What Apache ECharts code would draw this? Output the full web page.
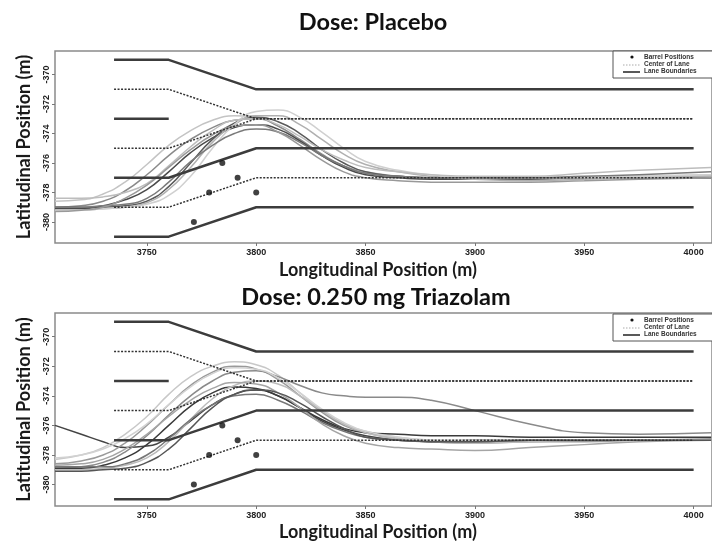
<!DOCTYPE html>
<html><head><meta charset="utf-8">
<script src="https://cdn.jsdelivr.net/npm/echarts@6/dist/echarts.min.js"></script>
<style>html,body{margin:0;padding:0;background:#fff}#c{width:712px;height:542px}</style>
</head><body><div id="c"></div>
<script>
// ---------- data ----------
const panelTitles = ['Dose: Placebo', 'Dose: 0.250 mg Triazolam'];
const xTicks = [3750, 3800, 3850, 3900, 3950, 4000];
const yTicks = [-380, -378, -376, -374, -372, -370];

// lane geometry (x positions and lateral positions)
const laneX = [3735, 3760, 3800, 4000];
const boundaryTop = [-369, -369, -371, -371];
const boundaryMid = [-377, -377, -375, -375];
const boundaryBot = [-381, -381, -379, -379];
const boundaryShortX = [3735, 3760];
const boundaryShort = [-373, -373];
const centerTop = [-371, -371, -373, -373];
const centerMid = [-375, -375, -373, -373];
const centerBot = [-379, -379, -377, -377];

// barrel positions
const barrelX = [3771.5, 3778.5, 3784.5, 3791.5, 3800];
const barrelY = [-380, -378, -376, -377, -378];

// trajectory sample positions
const trajX = [3708, 3720, 3730, 3740, 3750, 3760, 3770, 3780, 3790, 3800, 3810, 3820, 3830, 3840, 3850, 3865, 3880, 3900, 3925, 3950, 3975, 4008];

// Placebo trajectories
const P1 = [-378.6,-378.5,-378.1,-377.3,-376.1,-374.8,-373.8,-373.1,-372.8,-372.9,-373.5,-374.5,-375.5,-376.2,-376.6,-376.9,-377.0,-377.0,-377.1,-377.0,-376.9,-376.8];
const P2 = [-379.0,-378.9,-378.6,-377.9,-376.8,-375.5,-374.4,-373.6,-373.1,-373.0,-373.5,-374.4,-375.4,-376.2,-376.7,-376.9,-377.0,-377.0,-377.0,-377.0,-377.0,-376.9];
const P3 = [-379.1,-379.1,-378.9,-378.5,-377.8,-376.6,-375.3,-374.3,-373.6,-373.4,-373.7,-374.5,-375.5,-376.3,-376.8,-377.0,-377.1,-377.1,-377.0,-377.0,-377.0,-377.0];
const P4 = [-379.0,-379.0,-379.0,-378.9,-378.6,-377.6,-376.0,-374.4,-373.3,-372.9,-373.2,-374.0,-375.1,-376.0,-376.6,-376.9,-377.0,-377.1,-377.1,-377.0,-377.0,-377.0];
const P5 = [-379.2,-379.2,-379.1,-379.0,-378.7,-377.8,-376.3,-374.6,-373.4,-372.8,-372.8,-373.4,-374.4,-375.4,-376.1,-376.6,-376.9,-377.1,-377.2,-377.1,-377.0,-376.9];
const P6 = [-379.2,-379.2,-379.1,-379.0,-378.8,-378.2,-376.9,-375.0,-373.4,-372.5,-372.4,-372.9,-373.9,-375.0,-375.9,-376.5,-376.8,-377.0,-377.0,-377.0,-376.9,-376.8];
const P7 = [-379.0,-379.0,-378.9,-378.8,-378.4,-377.3,-375.9,-374.8,-374.0,-373.7,-373.9,-374.6,-375.5,-376.2,-376.7,-376.9,-377.0,-377.0,-377.0,-376.9,-376.8,-376.6];
const P8 = [-378.4,-378.4,-378.3,-378.0,-377.4,-376.2,-374.9,-373.8,-373.1,-373.0,-373.4,-374.2,-375.1,-375.8,-376.3,-376.6,-376.8,-376.9,-376.9,-376.7,-376.5,-376.3];
const P9 = [-379.3,-379.2,-379.0,-378.4,-377.5,-376.3,-375.1,-374.1,-373.5,-373.4,-373.9,-374.8,-375.8,-376.6,-377.0,-377.2,-377.3,-377.3,-377.3,-377.2,-377.1,-377.0];

// Triazolam trajectories
const T1 = [-376.0,-376.6,-377.1,-377.5,-377.4,-376.8,-375.7,-374.6,-373.9,-373.6,-374.0,-374.8,-375.7,-376.3,-376.7,-377.0,-377.1,-377.0,-377.0,-377.0,-377.0,-377.0];
const T2 = [-378.3,-378.0,-377.5,-376.6,-375.4,-373.9,-372.7,-372.0,-371.7,-371.9,-372.6,-373.8,-375.0,-375.9,-376.4,-376.8,-377.0,-377.1,-377.1,-377.0,-377.0,-377.0];
const T3 = [-378.6,-378.4,-378.0,-377.2,-376.0,-374.6,-373.3,-372.4,-372.0,-372.2,-372.9,-374.0,-375.1,-376.0,-376.5,-376.9,-377.1,-377.2,-377.1,-377.1,-377.0,-376.9];
const T4 = [-378.9,-378.8,-378.5,-377.8,-376.7,-375.3,-374.0,-373.0,-372.4,-372.3,-372.7,-373.3,-373.8,-374.0,-374.1,-374.1,-374.3,-375.0,-375.9,-376.5,-376.6,-376.5];
const T5 = [-378.9,-378.9,-378.7,-378.2,-377.3,-376.0,-374.7,-373.8,-373.4,-373.5,-374.0,-374.8,-375.6,-376.2,-376.5,-376.6,-376.7,-376.7,-376.8,-376.8,-376.8,-376.8];
const T6 = [-379.0,-379.0,-378.9,-378.7,-378.2,-377.1,-375.6,-374.2,-373.3,-373.0,-373.2,-374.0,-375.0,-375.9,-376.5,-376.9,-377.1,-377.2,-377.1,-377.0,-377.0,-377.0];
const T7 = [-378.8,-378.8,-378.8,-378.6,-378.0,-376.9,-375.6,-374.6,-374.0,-373.9,-374.3,-375.0,-375.8,-376.4,-376.8,-377.0,-377.1,-377.1,-377.0,-377.0,-377.0,-377.0];
const T8 = [-378.7,-378.6,-378.3,-377.6,-376.6,-375.4,-374.3,-373.5,-373.1,-373.2,-373.8,-374.8,-375.9,-376.7,-377.2,-377.5,-377.6,-377.7,-377.5,-377.3,-377.1,-377.0];
const T9 = [-378.2,-378.0,-377.6,-376.9,-375.9,-374.6,-373.4,-372.5,-372.1,-372.2,-372.8,-373.8,-374.9,-375.8,-376.4,-376.8,-377.0,-377.0,-377.0,-377.0,-377.0,-377.0];
const T10 = [-379.1,-379.1,-379.0,-378.9,-378.5,-377.6,-376.2,-374.8,-373.9,-373.6,-373.8,-374.5,-375.4,-376.2,-376.8,-377.0,-377.1,-377.1,-377.0,-377.0,-377.0,-377.0];

const placeboCurves = [P1, P2, P3, P4, P5, P6, P7, P8, P9];
const placeboColors = ['#c4c4c4', '#8a8a8a', '#4a4a4a', '#5a5a5a', '#b0b0b0', '#d0d0d0', '#7a7a7a', '#bdbdbd', '#999999'];
const triazCurves = [T1, T2, T3, T4, T5, T6, T7, T8, T9, T10];
const triazColors = ['#444444', '#c8c8c8', '#9a9a9a', '#8a8a8a', '#3a3a3a', '#bbbbbb', '#777777', '#a5a5a5', '#d2d2d2', '#555555'];

// ---------- chart ----------
const chart = echarts.init(document.getElementById('c'), null, {renderer: 'canvas'});
const zip = (xs, ys) => xs.map((x, i) => [x, ys[i]]);

const grids = [
  {left: 55, top: 51, width: 659, height: 192},
  {left: 55, top: 313, width: 659, height: 193}
].map(g => Object.assign(g, {show: true, borderColor: '#8a8a8a', borderWidth: 1.5, backgroundColor: '#fff'}));

const tickFont = {fontSize: 9, fontWeight: 'bold', color: '#222', fontFamily: 'Liberation Sans'};
const xAxes = [0, 1].map(i => ({
  type: 'value', gridIndex: i, min: 3708, max: 4008.4,
  splitLine: {show: false}, axisLine: {show: false},
  axisTick: {show: true, length: 3, lineStyle: {color: '#777'}, customValues: xTicks},
  axisLabel: Object.assign({customValues: xTicks, margin: 5, formatter: v => String(v)}, tickFont)
}));
const yAxes = [0, 1].map(i => ({
  type: 'value', gridIndex: i, min: i === 0 ? -381.43 : -381.45, max: -368.4,
  splitLine: {show: false}, axisLine: {show: false},
  axisTick: {show: true, length: 3, lineStyle: {color: '#777'}, customValues: yTicks},
  axisLabel: Object.assign({customValues: yTicks, margin: 4, rotate: 90, formatter: v => String(v)}, tickFont),
  name: 'Latitudinal Position (m)', nameLocation: 'middle', nameRotate: 90, nameGap: 22,
  nameTextStyle: {fontSize: 18, fontWeight: 'bold', color: '#1a1a1a', fontFamily: 'Lato'}
}));

const series = [];
function addPanel(i, curves, colors) {
  curves.forEach((c, k) => series.push({
    type: 'line', xAxisIndex: i, yAxisIndex: i, data: zip(trajX, c), smooth: 0.5,
    showSymbol: false, lineStyle: {color: colors[k], width: 1.5}, z: 2, silent: true
  }));
  const bnd = {color: '#3c3c3c', width: 2.5};
  const ctr = {color: '#333', width: 1.5, type: [2, 1.5]};
  [[laneX, boundaryTop, bnd], [laneX, boundaryMid, bnd], [laneX, boundaryBot, bnd], [boundaryShortX, boundaryShort, bnd],
   [laneX, centerTop, ctr], [laneX, centerMid, ctr], [laneX, centerBot, ctr]].forEach(([xs, ys, st]) =>
    series.push({type: 'line', xAxisIndex: i, yAxisIndex: i, data: zip(xs, ys), showSymbol: false,
      lineStyle: st, z: 3, silent: true}));
  series.push({type: 'scatter', xAxisIndex: i, yAxisIndex: i, data: zip(barrelX, barrelY),
    symbolSize: 6, itemStyle: {color: '#111'}, z: 4, silent: true});
}
addPanel(0, placeboCurves, placeboColors);
addPanel(1, triazCurves, triazColors);

function legendGraphic(top) {
  const f = 'bold 6.5px "Liberation Sans"';
  return [
    {type: 'rect', shape: {x: 613, y: top, width: 110, height: 27}, style: {fill: '#fff', stroke: '#555', lineWidth: 1}, z: 100},
    {type: 'circle', shape: {cx: 632, cy: top + 6, r: 1.6}, style: {fill: '#111'}, z: 101},
    {type: 'line', shape: {x1: 623, y1: top + 14, x2: 640, y2: top + 14}, style: {stroke: '#aaa', lineWidth: 1, lineDash: [1.5, 1.5]}, z: 101},
    {type: 'line', shape: {x1: 623, y1: top + 21, x2: 640, y2: top + 21}, style: {stroke: '#222', lineWidth: 1.5}, z: 101},
    {type: 'text', x: 644, y: top + 6, style: {text: 'Barrel Positions', font: f, fill: '#333', textVerticalAlign: 'middle'}, z: 101},
    {type: 'text', x: 644, y: top + 13.5, style: {text: 'Center of Lane', font: f, fill: '#333', textVerticalAlign: 'middle'}, z: 101},
    {type: 'text', x: 644, y: top + 20.5, style: {text: 'Lane Boundaries', font: f, fill: '#333', textVerticalAlign: 'middle'}, z: 101}
  ];
}
const titleFont = 'bold 23.5px Lato';
const xNameFont = 'bold 18px Lato';
const graphic = [
  {type: 'text', x: 373, y: 22, style: {text: panelTitles[0], font: titleFont, fill: '#111', textAlign: 'center', textVerticalAlign: 'middle'}},
  {type: 'text', x: 376, y: 297, style: {text: panelTitles[1], font: titleFont, fill: '#111', textAlign: 'center', textVerticalAlign: 'middle'}},
  {type: 'text', x: 378, y: 270, style: {text: 'Longitudinal Position (m)', font: xNameFont, fill: '#1a1a1a', textAlign: 'center', textVerticalAlign: 'middle'}},
  {type: 'text', x: 378, y: 532, style: {text: 'Longitudinal Position (m)', font: xNameFont, fill: '#1a1a1a', textAlign: 'center', textVerticalAlign: 'middle'}}
].concat(legendGraphic(51), legendGraphic(314));

chart.setOption({
  animation: false,
  backgroundColor: '#fff',
  grid: grids, xAxis: xAxes, yAxis: yAxes, series, graphic
});
</script></body></html>
